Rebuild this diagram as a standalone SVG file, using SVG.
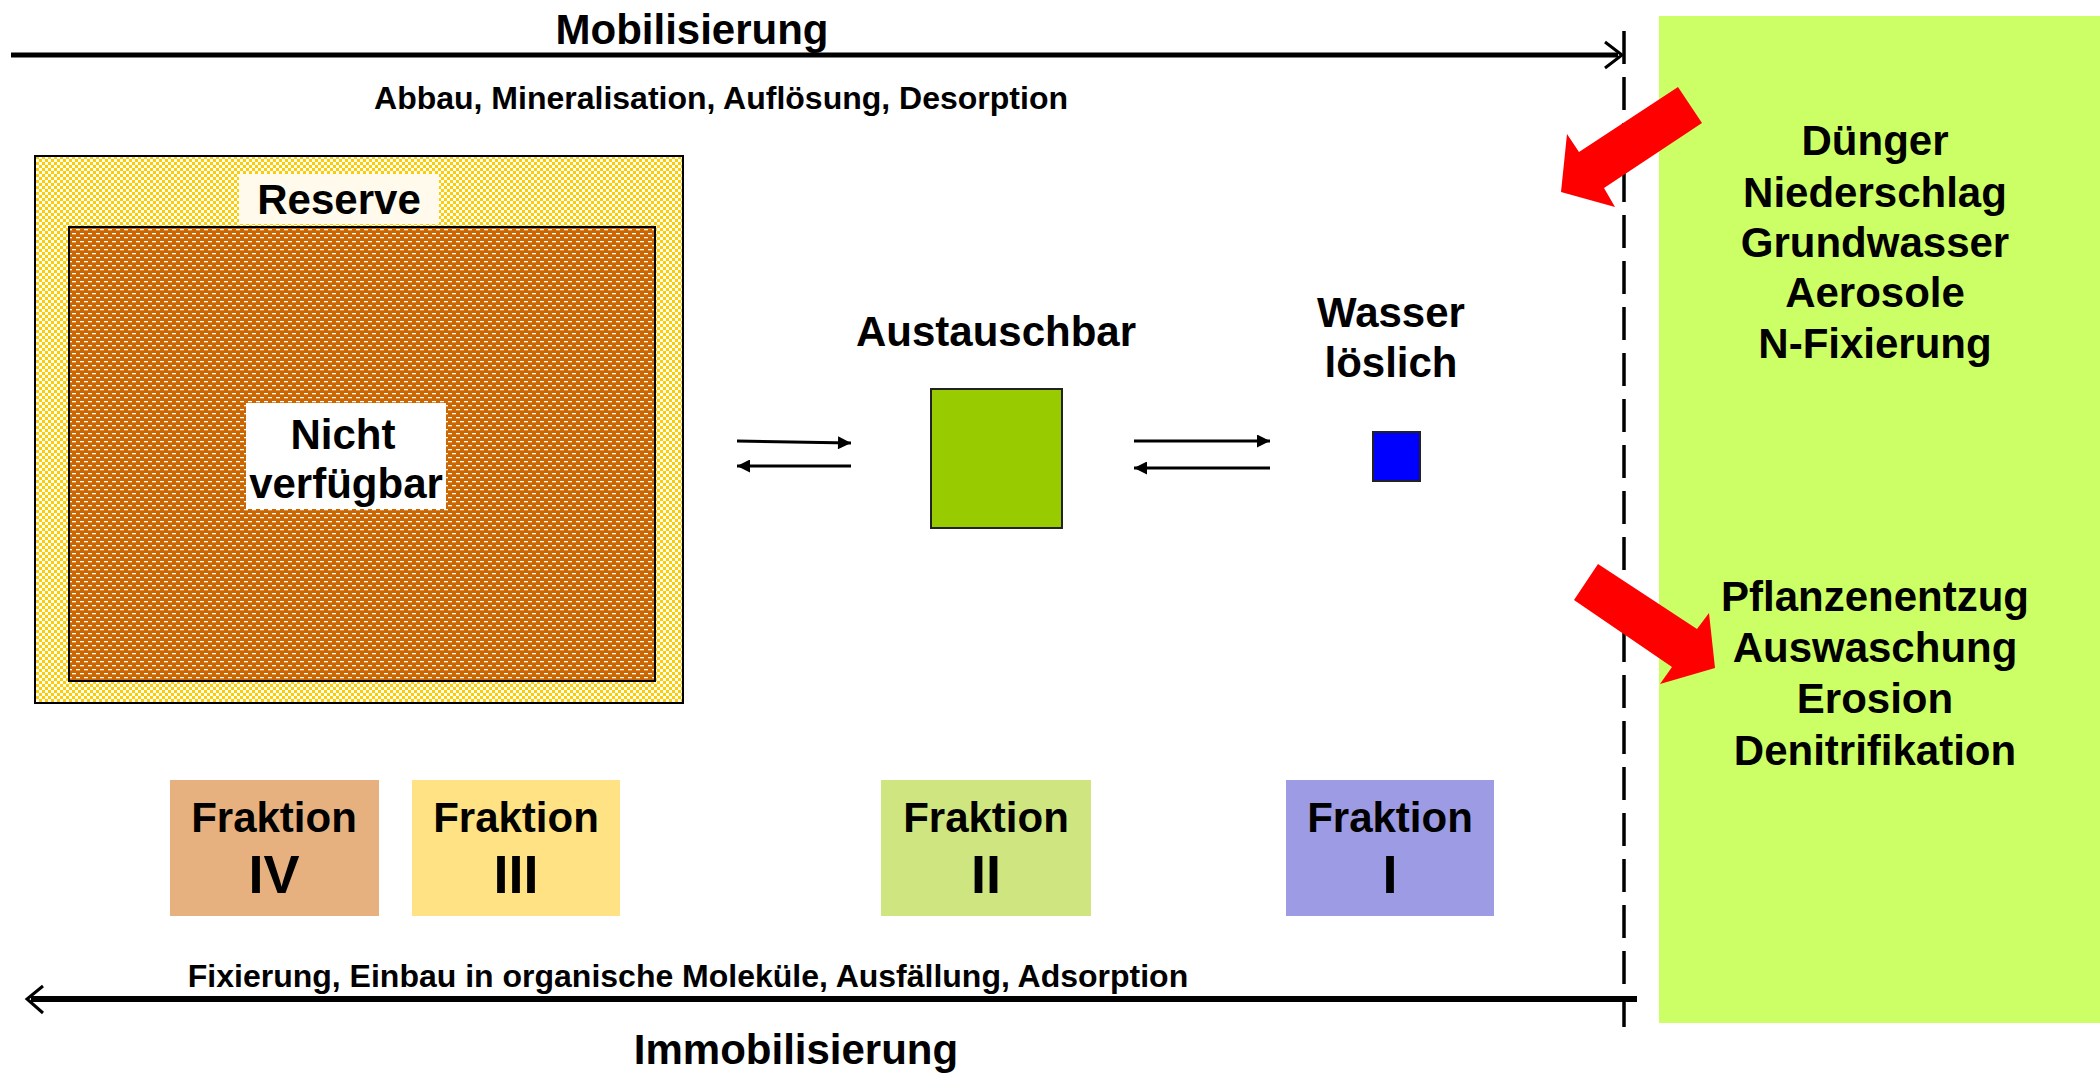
<svg xmlns="http://www.w3.org/2000/svg" width="2100" height="1074" viewBox="0 0 2100 1074">
<defs>
<style>
text{font-family:"Liberation Sans",Arial,sans-serif;font-weight:bold;fill:#000}
.big{font-size:42px}
.small{font-size:32px}
.num{font-size:54px}
.c{text-anchor:middle}
.ln{stroke:#000;fill:none}
</style>
<pattern id="checker" width="6" height="6" patternUnits="userSpaceOnUse">
<rect width="6" height="6" fill="#fff"/>
<rect width="3" height="3" fill="#FFCC00"/>
<rect x="3" y="3" width="3" height="3" fill="#FFCC00"/>
</pattern>
<pattern id="brick" width="8" height="8" patternUnits="userSpaceOnUse">
<rect width="8" height="8" fill="#CC6600"/>
<rect x="0" y="1" width="4" height="1.3" fill="#fff"/>
<rect x="4" y="5" width="4" height="1.3" fill="#fff"/>
</pattern>
<marker id="ah" viewBox="0 0 10 10" refX="10" refY="5" markerWidth="14" markerHeight="13" markerUnits="userSpaceOnUse" orient="auto">
<path d="M0,0 L10,5 L0,10 Z" fill="#000"/>
</marker>
</defs>
<rect width="2100" height="1074" fill="#fff"/>

<g id="external">
<rect x="1659" y="16" width="441" height="1007" fill="#CCFF66"/>
<text class="big c" x="1875" y="155">Dünger</text>
<text class="big c" x="1875" y="207">Niederschlag</text>
<text class="big c" x="1875" y="257">Grundwasser</text>
<text class="big c" x="1875" y="307">Aerosole</text>
<text class="big c" x="1875" y="358">N-Fixierung</text>
<text class="big c" x="1875" y="611">Pflanzenentzug</text>
<text class="big c" x="1875" y="662">Auswaschung</text>
<text class="big c" x="1875" y="713">Erosion</text>
<text class="big c" x="1875" y="765">Denitrifikation</text>
</g>

<g id="reserve">
<rect x="35" y="156" width="648" height="547" fill="url(#checker)" stroke="#000" stroke-width="2"/>
<rect x="239" y="174" width="200" height="50" fill="#FFFAEB"/>
<text class="big c" x="339" y="214">Reserve</text>
</g>

<g id="nicht-verfuegbar">
<rect x="69" y="227" width="586" height="454" fill="url(#brick)" stroke="#000" stroke-width="2"/>
<rect x="246" y="403" width="200" height="106" fill="#fff"/>
<text class="big c" x="343" y="449">Nicht</text>
<text class="big c" x="346" y="498">verfügbar</text>
</g>

<g id="austauschbar">
<text class="big c" x="996" y="346">Austauschbar</text>
<rect x="931" y="389" width="131" height="139" fill="#99CC00" stroke="#222" stroke-width="2"/>
</g>

<g id="wasserloeslich">
<text class="big c" x="1391" y="327">Wasser</text>
<text class="big c" x="1391" y="377">löslich</text>
<rect x="1373" y="432" width="47" height="49" fill="#0000FF" stroke="#222" stroke-width="2"/>
</g>

<g id="fraktion-iv">
<rect x="170" y="780" width="209" height="136" fill="#E6B17E"/>
<text class="big c" x="274" y="832">Fraktion</text>
<text class="num c" x="274" y="893">IV</text>
</g>
<g id="fraktion-iii">
<rect x="412" y="780" width="208" height="136" fill="#FEE283"/>
<text class="big c" x="516" y="832">Fraktion</text>
<text class="num c" x="516" y="893">III</text>
</g>
<g id="fraktion-ii">
<rect x="881" y="780" width="210" height="136" fill="#CFE57F"/>
<text class="big c" x="986" y="832">Fraktion</text>
<text class="num c" x="986" y="893">II</text>
</g>
<g id="fraktion-i">
<rect x="1286" y="780" width="208" height="136" fill="#9C9BE3"/>
<text class="big c" x="1390" y="832">Fraktion</text>
<text class="num c" x="1390" y="893">I</text>
</g>

<g id="labels">
<text class="big c" x="692" y="44">Mobilisierung</text>
<text class="small c" x="721" y="109">Abbau, Mineralisation, Auflösung, Desorption</text>
<text class="small c" x="688" y="987">Fixierung, Einbau in organische Moleküle, Ausfällung, Adsorption</text>
<text class="big c" x="796" y="1064">Immobilisierung</text>
</g>

<g id="connectors">
<line class="ln" x1="1624" y1="31" x2="1624" y2="1027" stroke-width="3.5" stroke-dasharray="33 13"/>
<line class="ln" x1="11" y1="55" x2="1618" y2="55" stroke-width="5"/>
<polyline class="ln" points="1605,42 1622,55 1605,68" stroke-width="3"/>
<line class="ln" x1="31" y1="999" x2="1637" y2="999" stroke-width="6"/>
<polyline class="ln" points="43,986 27,999 43,1013" stroke-width="3"/>
<line class="ln" x1="737" y1="441" x2="851" y2="443" stroke-width="3" marker-end="url(#ah)"/>
<line class="ln" x1="851" y1="466" x2="737" y2="466" stroke-width="3" marker-end="url(#ah)"/>
<line class="ln" x1="1134" y1="441" x2="1270" y2="441" stroke-width="3" marker-end="url(#ah)"/>
<line class="ln" x1="1270" y1="468" x2="1134" y2="468" stroke-width="3" marker-end="url(#ah)"/>
<polygon points="1678,87 1702,123 1604,188 1615,207 1561,192 1567,134 1579,152" fill="#FF0000"/>
<polygon points="1598,564 1574,600 1672,667 1660,684 1715,668 1709,613 1697,629" fill="#FF0000"/>
</g>
</svg>
